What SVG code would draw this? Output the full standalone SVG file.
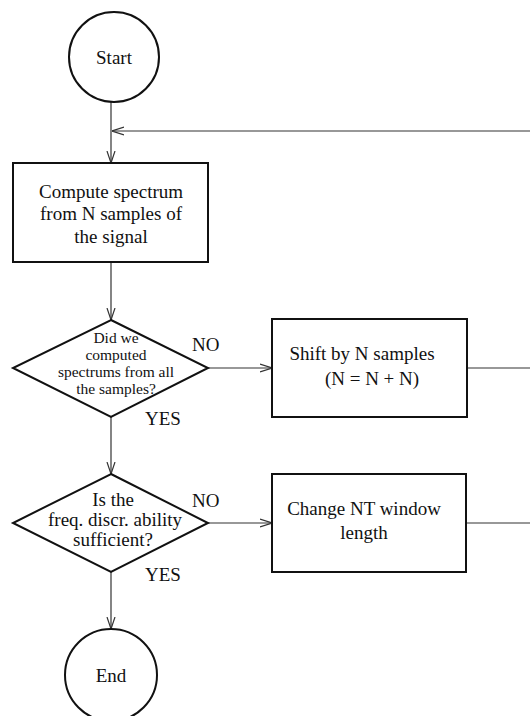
<svg xmlns="http://www.w3.org/2000/svg" width="530" height="716" viewBox="0 0 530 716">
<style>
.shape{fill:#fff;stroke:#111;stroke-width:2}
.conn{fill:none;stroke:#333;stroke-width:1.2}
text{font-family:"Liberation Serif","Times New Roman",serif;fill:#111;text-anchor:middle}
.t19{font-size:19px}
.t15{font-size:15.5px}
.lbl{font-size:19px;text-anchor:start}
</style>
<defs>
<marker id="arr" viewBox="0 0 12 10" refX="12" refY="5" markerWidth="12" markerHeight="10" markerUnits="userSpaceOnUse" orient="auto">
<path d="M0,1 L12,5 L0,9" fill="none" stroke="#333" stroke-width="1.2"/>
</marker>
</defs>
<g id="connectors">
<line class="conn" x1="111" y1="102" x2="111" y2="163" marker-end="url(#arr)"/>
<line class="conn" x1="530" y1="131" x2="112" y2="131" marker-end="url(#arr)"/>
<line class="conn" x1="111" y1="262" x2="111" y2="320" marker-end="url(#arr)"/>
<line class="conn" x1="208" y1="368" x2="272" y2="368" marker-end="url(#arr)"/>
<line class="conn" x1="467" y1="368" x2="530" y2="368"/>
<line class="conn" x1="111" y1="417" x2="111" y2="474" marker-end="url(#arr)"/>
<line class="conn" x1="208" y1="523" x2="272" y2="523" marker-end="url(#arr)"/>
<line class="conn" x1="466" y1="523" x2="530" y2="523"/>
<line class="conn" x1="111" y1="572" x2="111" y2="629" marker-end="url(#arr)"/>
<text class="lbl" x="192" y="351">NO</text>
<text class="lbl" x="145" y="425">YES</text>
<text class="lbl" x="192" y="507">NO</text>
<text class="lbl" x="145" y="581">YES</text>
</g>
<g id="start">
<circle class="shape" cx="114" cy="57" r="45"/>
<text class="t19" x="114" y="64">Start</text>
</g>
<g id="compute">
<rect class="shape" x="13" y="163" width="195" height="99"/>
<text class="t19" x="111" y="198">Compute spectrum</text>
<text class="t19" x="111" y="220">from N samples of</text>
<text class="t19" x="111" y="243">the signal</text>
</g>
<g id="decision1">
<polygon class="shape" points="111,320 208,368 111,417 13,368"/>
<text class="t15" x="116" y="343">Did we</text>
<text class="t15" x="116" y="360">computed</text>
<text class="t15" x="116" y="377">spectrums from all</text>
<text class="t15" x="116" y="394">the samples?</text>
</g>
<g id="shift">
<rect class="shape" x="272" y="319" width="195" height="98"/>
<text class="t19" x="362" y="360">Shift by N samples</text>
<text class="t19" x="372" y="385">(N = N + N)</text>
</g>
<g id="decision2">
<polygon class="shape" points="111,474 208,523 111,572 13,523"/>
<text class="t19" x="113" y="506">Is the</text>
<text class="t19" x="115" y="526">freq. discr. ability</text>
<text class="t19" x="113" y="546">sufficient?</text>
</g>
<g id="change">
<rect class="shape" x="272" y="474" width="194" height="98"/>
<text class="t19" x="364" y="515">Change NT window</text>
<text class="t19" x="364" y="539">length</text>
</g>
<g id="end">
<circle class="shape" cx="111" cy="675" r="46"/>
<text class="t19" x="111" y="682">End</text>
</g>
</svg>
